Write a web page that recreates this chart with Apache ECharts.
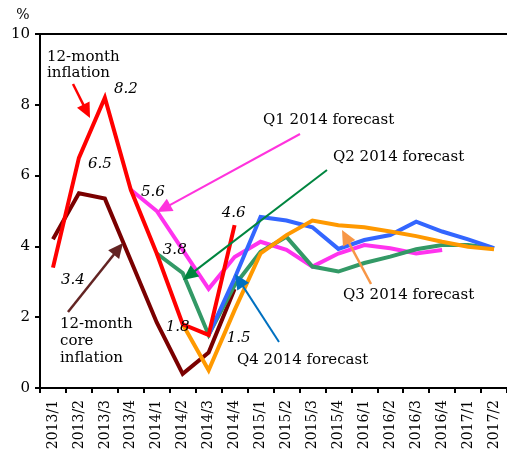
<!DOCTYPE html>
<html>
<head>
<meta charset="utf-8">
<script src="https://cdn.jsdelivr.net/npm/echarts@6/dist/echarts.min.js"></script>
<style>
  html, body { margin: 0; padding: 0; background: #fff; }
  #chart { width: 507px; height: 456px; }
</style>
</head>
<body>
<div id="chart"></div>
<script>
// Quarterly periods on the horizontal axis
const quarters = ['2013/1','2013/2','2013/3','2013/4','2014/1','2014/2','2014/3','2014/4',
  '2015/1','2015/2','2015/3','2015/4','2016/1','2016/2','2016/3','2016/4','2017/1','2017/2'];

// Actual 12-month inflation, %
const inflation = [3.4, 6.5, 8.2, 5.6, 3.8, 1.8, 1.5, 4.6,
  null, null, null, null, null, null, null, null, null, null];
// Actual 12-month core inflation, %
const coreInflation = [4.2, 5.5, 5.35, 3.6, 1.85, 0.4, 1.0, 2.8,
  null, null, null, null, null, null, null, null, null, null];
// Forecast paths published in each quarter of 2014, %
const forecastQ1 = [null, null, null, 5.6, 5.0, 3.9, 2.8, 3.7,
  4.13, 3.9, 3.43, 3.8, 4.04, 3.95, 3.8, 3.9, null, null];
const forecastQ2 = [null, null, null, null, 3.8, 3.25, 1.5, 2.9,
  3.85, 4.27, 3.43, 3.29, 3.53, 3.71, 3.92, 4.04, 4.04, 3.95];
const forecastQ3 = [null, null, null, null, null, 1.8, 0.5, 2.2,
  3.8, 4.32, 4.73, 4.6, 4.54, 4.42, 4.29, 4.13, 3.99, 3.92];
const forecastQ4 = [null, null, null, null, null, null, 1.5, 3.1,
  4.83, 4.73, 4.54, 3.93, 4.18, 4.32, 4.7, 4.42, 4.2, 3.95];

// Y-axis ticks
const yMin = 0, yMax = 10, yStep = 2;

const SERIF = '"DejaVu Serif", "Liberation Serif", serif';

// Offsets of the value labels on the inflation line, by point index
const inflationLabelOffsets = {
  0: [20, 12], 1: [21, 6], 2: [21, -9], 3: [22, 2],
  4: [18, -3], 5: [-5, 3], 6: [30, 3], 7: [-1, -12]
};

const inflationData = inflation.map((v, i) => {
  if (v == null || !(i in inflationLabelOffsets)) return v;
  return {
    value: v,
    label: {
      show: true,
      position: 'inside',
      offset: inflationLabelOffsets[i],
      formatter: p => p.value.toFixed(1),
      fontFamily: SERIF, fontStyle: 'italic', fontSize: 15, color: '#000'
    }
  };
});

function lineSeries(name, data, color, width, z) {
  return {
    name, type: 'line', data, z,
    symbol: 'circle', symbolSize: 0, showSymbol: true,
    connectNulls: false,
    lineStyle: { color, width, join: 'miter' },
    itemStyle: { color },
    emphasis: { disabled: true },
    label: { show: false }
  };
}

// Annotation arrow: shaft plus a triangular head at (x2, y2)
function arrow(x1, y1, x2, y2, color, width) {
  const dx = x2 - x1, dy = y2 - y1;
  const len = Math.sqrt(dx * dx + dy * dy);
  const ux = dx / len, uy = dy / len;
  const headLen = 15, headHalf = 7;
  const bx = x2 - ux * headLen, by = y2 - uy * headLen;
  return [
    { type: 'line', z: 50, silent: true,
      shape: { x1, y1, x2: bx + ux * 2, y2: by + uy * 2 },
      style: { stroke: color, lineWidth: width } },
    { type: 'polygon', z: 50, silent: true,
      shape: { points: [[x2, y2], [bx - uy * headHalf, by + ux * headHalf], [bx + uy * headHalf, by - ux * headHalf]] },
      style: { fill: color } }
  ];
}

function note(text, x, y, lineHeight) {
  return { type: 'text', z: 50, silent: true,
    style: { text, x, y, font: '15px ' + SERIF, fill: '#000',
      textAlign: 'left', textVerticalAlign: 'top', lineHeight: lineHeight || 16 } };
}

const chart = echarts.init(document.getElementById('chart'), null, { renderer: 'canvas' });

chart.setOption({
  animation: false,
  backgroundColor: '#fff',
  grid: { left: 40, top: 34, bottom: 68, right: -6, containLabel: false },
  xAxis: [{
    type: 'category', data: quarters, boundaryGap: true, position: 'bottom',
    axisLine: { show: true, onZero: false, lineStyle: { color: '#000', width: 2 } },
    axisTick: { show: true, alignWithLabel: false, interval: 0, length: 5, lineStyle: { color: '#000', width: 2 } },
    axisLabel: { interval: 0, rotate: 90, margin: 12, color: '#000', fontFamily: SERIF, fontSize: 14 },
    splitLine: { show: false }
  }, {
    type: 'category', data: quarters, position: 'top',
    axisLine: { show: true, onZero: false, lineStyle: { color: '#000', width: 2 } },
    axisTick: { show: false }, axisLabel: { show: false }, splitLine: { show: false }
  }],
  yAxis: {
    type: 'value', min: yMin, max: yMax, interval: yStep,
    name: '%', nameLocation: 'end', nameGap: 12,
    nameTextStyle: { color: '#000', fontFamily: SERIF, fontSize: 14, padding: [0, 34, 0, 0] },
    axisLine: { show: true, lineStyle: { color: '#000', width: 2 } },
    axisTick: { show: true, length: 5, lineStyle: { color: '#000', width: 2 } },
    axisLabel: { color: '#000', fontFamily: SERIF, fontSize: 15, margin: 10 },
    splitLine: { show: false }
  },
  series: [
    lineSeries('12-month core inflation', coreInflation, '#7a0000', 4, 2),
    lineSeries('Q1 2014 forecast', forecastQ1, '#ff33ee', 4, 3),
    lineSeries('Q2 2014 forecast', forecastQ2, '#339966', 4, 4),
    lineSeries('Q4 2014 forecast', forecastQ4, '#3366ff', 4, 5),
    lineSeries('Q3 2014 forecast', forecastQ3, '#ff9900', 4, 6),
    lineSeries('12-month inflation', inflationData, '#ff0000', 4, 7)
  ],
  graphic: [
    note('12-month\ninflation', 47, 49, 16),
    note('12-month\ncore\ninflation', 60, 316, 17),
    note('Q1 2014 forecast', 263, 112),
    note('Q2 2014 forecast', 333, 149),
    note('Q3 2014 forecast', 343, 287),
    note('Q4 2014 forecast', 237, 352),
    ...arrow(73, 84, 90, 118, '#ff0000', 2.5),
    ...arrow(300, 134, 157, 212, '#ff33dd', 2),
    ...arrow(327, 170, 183, 280, '#00853f', 2),
    ...arrow(371, 284, 342, 230, '#f79646', 2.5),
    ...arrow(279, 342, 235, 274, '#0070c0', 2),
    ...arrow(68, 312, 123, 243, '#632423', 2.5)
  ]
});
</script>
</body>
</html>
